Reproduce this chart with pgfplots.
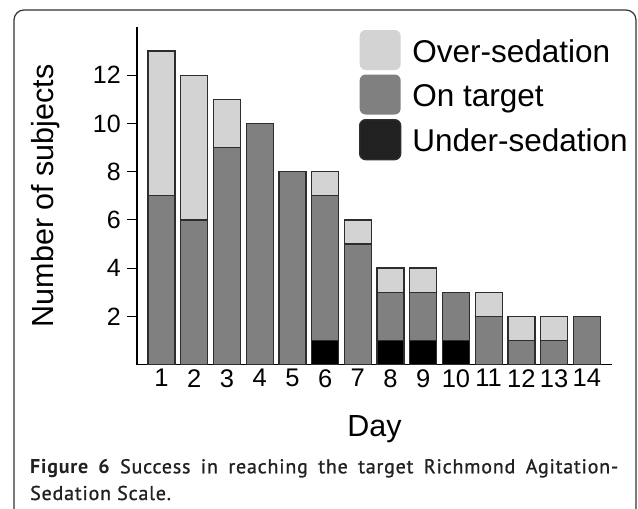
\documentclass[border=0pt]{standalone}
\usepackage{pgfplots}
\pgfplotsset{compat=1.18}
\usepackage{fontspec}
\setmainfont{Liberation Sans}
\newfontfamily\capfont[LetterSpace=4, UprightFeatures={FakeBold=1}]{PT Sans}
\definecolor{overc}{RGB}{211,211,211}
\definecolor{onc}{RGB}{128,128,128}
\definecolor{underc}{RGB}{0,0,0}
\definecolor{edge}{RGB}{45,45,45}

\begin{document}
\begin{tikzpicture}[x=1bp,y=1bp]
\useasboundingbox (0,0) rectangle (638,-509);
\draw[line width=1.2bp, black!80, rounded corners=10bp] (14,-10) rectangle (636,-560);

\begin{axis}[
    at={(137bp,-364.5bp)}, anchor=south west,
    scale only axis, width=475bp, height=337.5bp,
    ybar stacked, bar width=0.826,
    xmin=0.25, xmax=14.77, ymin=0, ymax=14,
    axis lines*=left,
    axis line style={line width=1.2bp, black},
    xtick={1,...,14}, ytick={2,4,...,12},
    x tick style={draw=none},
    y tick style={line width=1bp, black, xshift=-10bp},
    major tick length=10bp, tick align=inside,
    /pgf/number format/assume math mode=true,
    xticklabel style={font=\fontsize{25.5bp}{30bp}\selectfont, anchor=north, inner sep=0pt, yshift=-4.5bp},
    yticklabel style={font=\fontsize{25bp}{30bp}\selectfont, anchor=east, inner sep=0pt, xshift=-16bp},
    xlabel={Day}, ylabel={Number of subjects},
    every axis x label/.style={at={(axis description cs:0.5,-0.2119)}, anchor=base,
        font=\fontsize{30.5bp}{36bp}\selectfont},
    every axis y label/.style={at={(axis description cs:-0.1768,0.5)}, rotate=90, anchor=base,
        font=\fontsize{30.5bp}{36bp}\selectfont},
    legend style={at={(0.4674,0.9911)}, anchor=north west, draw=none, fill=none,
        inner sep=0pt, outer sep=0pt, row sep=4.5bp, column sep=11bp,
        font=\fontsize{31.5bp}{38bp}\selectfont,
        nodes={inner sep=0pt, text height=23bp, text depth=7bp}},
    legend cell align=left,
    reverse legend,
    legend image code/.code={\path[#1, draw=none, rounded corners=6bp] (0bp,-16bp) rectangle (41bp,24bp);},
    every axis plot/.append style={draw=edge, line width=1.3bp},
]
\addplot[fill=underc, legend image code/.code={\path[fill=black!87, rounded corners=6bp] (0bp,-16bp) rectangle (41bp,24bp);}]
    coordinates {(1,0) (2,0) (3,0) (4,0) (5,0) (6,1) (7,0) (8,1) (9,1) (10,1) (11,0) (12,0) (13,0) (14,0)};
\addplot[fill=onc]
    coordinates {(1,7) (2,6) (3,9) (4,10) (5,8) (6,6) (7,5) (8,2) (9,2) (10,2) (11,2) (12,1) (13,1) (14,2)};
\addplot[fill=overc]
    coordinates {(1,6) (2,6) (3,2) (4,0) (5,0) (6,1) (7,1) (8,1) (9,1) (10,0) (11,1) (12,1) (13,1) (14,0)};
\legend{Under-sedation, On target, Over-sedation}
\end{axis}

\node[anchor=base west, inner sep=0pt, font=\capfont\fontsize{20bp}{26bp}\selectfont, text=black!87]
    at (30,-473.3) {\makebox[588bp][s]{\bfseries Figure 6\mdseries\ Success in reaching the target Richmond Agitation-}};
\node[anchor=base west, inner sep=0pt, font=\capfont\fontsize{20bp}{26bp}\selectfont, text=black!87]
    at (30,-500) {Sedation Scale.};
\end{tikzpicture}
\end{document}
